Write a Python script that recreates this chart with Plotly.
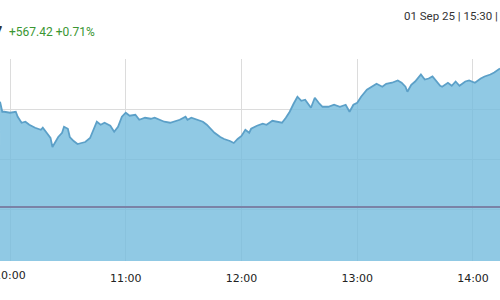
import plotly.graph_objects as go

day = "2025-09-01 "
times = ["09:54:50", "09:56", "09:57", "10:00", "10:03", "10:04", "10:06", "10:08", "10:10", "10:13",
         "10:16", "10:17", "10:19", "10:21", "10:22", "10:24", "10:25", "10:27", "10:28", "10:30",
         "10:31", "10:33", "10:35", "10:37", "10:39", "10:41:30", "10:43", "10:45", "10:47", "10:49",
         "10:52", "10:54", "10:56", "10:58", "11:00", "11:02", "11:05", "11:07", "11:10", "11:13",
         "11:15", "11:18", "11:20", "11:23", "11:26", "11:28", "11:31", "11:32", "11:34", "11:37",
         "11:40", "11:42", "11:44", "11:46", "11:49", "11:51", "11:54", "11:56", "11:58", "12:00",
         "12:02", "12:04", "12:05", "12:08", "12:11", "12:13", "12:16", "12:18", "12:21", "12:23",
         "12:25", "12:27", "12:29", "12:31", "12:33", "12:36", "12:38", "12:40", "12:42", "12:45",
         "12:48", "12:51", "12:54", "12:56", "12:58", "13:00", "13:02", "13:05", "13:08", "13:10",
         "13:13", "13:15", "13:18", "13:21", "13:23", "13:25", "13:26", "13:28", "13:30", "13:33",
         "13:35", "13:37", "13:39", "13:41", "13:43", "13:44", "13:47", "13:49", "13:51", "13:53",
         "13:56", "13:58", "14:01", "14:04", "14:06", "14:09", "14:11", "14:14"]
values = [80231, 80191, 80191, 80187, 80191, 80171, 80147, 80151, 80139, 80127,
          80119, 80127, 80107, 80086, 80050, 80074, 80090, 80107, 80131, 80123,
          80090, 80074, 80062, 80066, 80070, 80086, 80115, 80151, 80139, 80147,
          80135, 80111, 80131, 80171, 80187, 80175, 80179, 80159, 80167, 80163,
          80167, 80159, 80151, 80147, 80155, 80159, 80171, 80159, 80167, 80159,
          80151, 80139, 80123, 80107, 80090, 80082, 80074, 80066, 80082, 80094,
          80119, 80107, 80123, 80135, 80143, 80139, 80155, 80151, 80147, 80167,
          80191, 80223, 80251, 80235, 80239, 80207, 80247, 80227, 80211, 80211,
          80219, 80211, 80219, 80191, 80219, 80227, 80251, 80279, 80295, 80303,
          80291, 80303, 80307, 80316, 80307, 80291, 80271, 80299, 80312, 80340,
          80320, 80324, 80332, 80312, 80295, 80291, 80307, 80295, 80312, 80295,
          80312, 80316, 80307, 80324, 80332, 80340, 80348, 80364]

prev_close = 79809.65
last_price = "80,377.07"
change_text = "+567.42 +0.71%"
date_text = "01 Sep 25 | 15:30 | "
status_text = "Close"

tick_times = ["10:00", "11:00", "12:00", "13:00", "14:00"]
y_grid = [79800, 80000, 80200, 80400]
x_range = ["09:54:49", "14:14:00"]
y_range = [79594, 80402]

x = [day + t for t in times]
tick_font = dict(family="DejaVu Sans", size=11, color="#222")

fig = go.Figure()
fig.add_trace(go.Scatter(
    x=x, y=values, mode="lines",
    line=dict(color="rgb(92,160,200)", width=1.8),
    fill="tozeroy", fillcolor="rgba(116,188,221,0.8)",
    hoverinfo="skip", showlegend=False,
))
fig.add_shape(type="line", xref="paper", x0=0, x1=1, yref="y",
              y0=prev_close, y1=prev_close,
              line=dict(color="rgb(122,130,166)", width=2))

green = "rgb(58,150,50)"
fig.add_annotation(xref="paper", yref="paper", x=4 / 500, y=1 + (59 - 32) / 202,
                   xanchor="right", yanchor="middle", showarrow=False,
                   text="<b>" + last_price + "</b>",
                   font=dict(family="Roboto", size=15, color="#333"))
fig.add_annotation(xref="paper", yref="paper", x=7 / 500, y=1 + (59 - 32) / 202,
                   xanchor="left", yanchor="middle", showarrow=False,
                   text=change_text,
                   font=dict(family="Roboto", size=12, color=green))
fig.add_annotation(xref="paper", yref="paper", x=402 / 500, y=1 + (59 - 16) / 202,
                   xanchor="left", yanchor="middle", showarrow=False,
                   text=date_text + "<span style='color:" + green + "'>" + status_text + "</span>",
                   font=dict(family="Roboto", size=11.5, color="#333"))
# first tick label, partly outside the page like in the original
fig.add_annotation(xref="x", yref="paper", x=day + tick_times[0], y=-(275 - 261) / 202,
                   xanchor="center", yanchor="middle", showarrow=False,
                   text=tick_times[0], font=tick_font)

fig.update_layout(
    width=500, height=300,
    margin=dict(l=0, r=0, t=59, b=39, pad=0),
    paper_bgcolor="white", plot_bgcolor="white",
    xaxis=dict(type="date", range=[day + x_range[0], day + x_range[1]],
               tickvals=[day + t for t in tick_times], ticktext=tick_times,
               showgrid=True, gridcolor="#dcdcdc", gridwidth=1,
               showline=False, zeroline=False,
               ticks="outside", ticklen=7, tickcolor="rgba(0,0,0,0)",
               tickfont=tick_font),
    yaxis=dict(range=y_range, tickvals=y_grid, showticklabels=False,
               showgrid=True, gridcolor="#dcdcdc", gridwidth=1,
               zeroline=False, showline=False, ticks=""),
)

fig.write_html("out.html")
